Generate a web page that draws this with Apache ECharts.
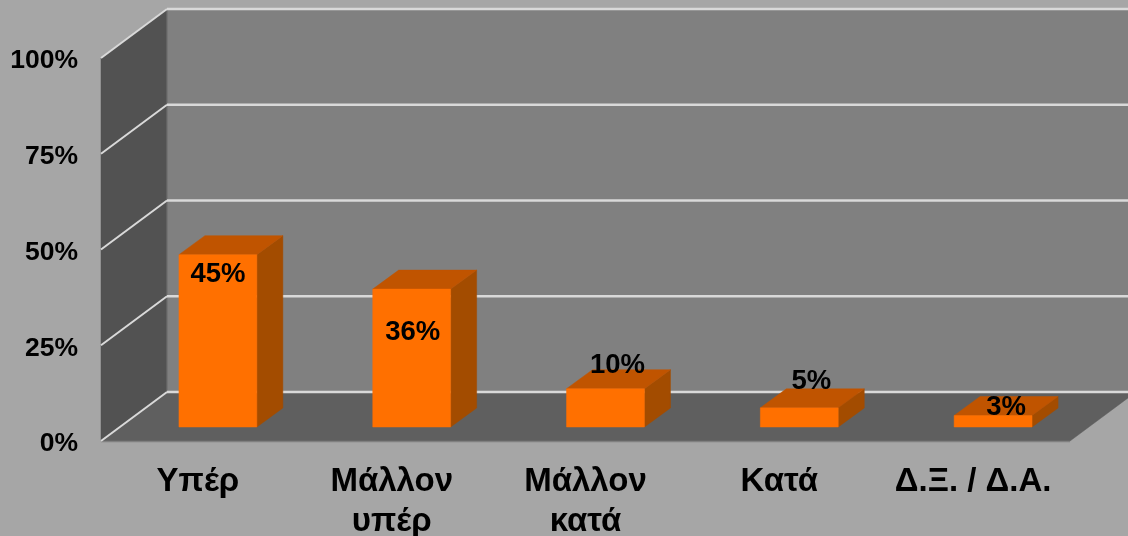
<!DOCTYPE html>
<html>
<head>
<meta charset="utf-8">
<style>html,body{margin:0;padding:0;background:#a6a6a6}#c{width:1128px;height:536px}</style>
<script src="https://cdn.jsdelivr.net/npm/echarts@6/dist/echarts.min.js"></script>
</head>
<body>
<div id="c"></div>
<script>
const categories = ['Υπέρ', 'Μάλλον\nυπέρ', 'Μάλλον\nκατά', 'Κατά', 'Δ.Ξ. / Δ.Α.'];
const values = [45, 36, 10, 5, 3];
const yTicks = [0, 25, 50, 75, 100];

// Presentation constants for the oblique 3D look
const DEPTH_X = 66, DEPTH_Y = -49;
const BAR_SHIFT_X = 20, BAR_SHIFT_Y = -14, BAR_DX = 26, BAR_DY = -19, BAR_RATIO = 0.402;
const labelShift = [[0, 20], [1, 43], [12, -23], [12, -26], [13, -8]];
const FONT = '"Liberation Sans", Arial, sans-serif';

const poly = (points, fill, z2) => ({
  type: 'polygon', z2: z2 || 0, silent: true,
  shape: { points }, style: { fill, stroke: fill, lineWidth: 0.5 }
});
const seg = (x1, y1, x2, y2, stroke, w, z2) => ({
  type: 'line', z2: z2 || 1, silent: true,
  shape: { x1, y1, x2, y2 }, style: { stroke, lineWidth: w }
});

function renderWalls(params, api) {
  const cs = params.coordSys;
  const L = cs.x, R = cs.x + cs.width;
  const y0 = api.coord([0, 0])[1], yTop = api.coord([0, 100])[1];
  const dx = DEPTH_X, dy = DEPTH_Y;
  const children = [
    poly([[L + dx, yTop + dy], [R + dx, yTop + dy], [R + dx, y0 + dy], [L + dx, y0 + dy]], '#808080'),
    poly([[L, yTop], [L + dx, yTop + dy], [L + dx, y0 + dy], [L, y0]], '#525252'),
    poly([[L, y0], [L + dx, y0 + dy], [R + dx, y0 + dy], [R, y0]], '#5f5f5f'),
    seg(L + dx, yTop + dy, L + dx, y0 + dy, '#747474', 1),
    seg(L, y0 + 0.5, R, y0 + 0.5, '#808080', 1.5)
  ];
  yTicks.forEach(t => {
    const y = api.coord([0, t])[1];
    children.push(seg(L + dx, y + dy, R + dx, y + dy, '#d9d9d9', 2.6, 2));
    children.push(seg(L, y, L + dx, y + dy, '#d9d9d9', 2, 2));
  });
  return { type: 'group', children };
}

function renderBars(params, api) {
  const i = api.value(0), v = api.value(1);
  const base = api.coord([i, 0]), top = api.coord([i, v]);
  const w = api.size([1, 0])[0] * BAR_RATIO;
  const x1 = base[0] + BAR_SHIFT_X - w / 2, x2 = x1 + w;
  const yb = base[1] + BAR_SHIFT_Y, yt = top[1] + BAR_SHIFT_Y;
  const s = labelShift[i];
  return {
    type: 'group',
    children: [
      poly([[x2, yt], [x2 + BAR_DX, yt + BAR_DY], [x2 + BAR_DX, yb + BAR_DY], [x2, yb]], '#a34c00'),
      poly([[x1, yt], [x1 + BAR_DX, yt + BAR_DY], [x2 + BAR_DX, yt + BAR_DY], [x2, yt]], '#c05400'),
      poly([[x1, yt], [x2, yt], [x2, yb], [x1, yb]], '#ff7000'),
      {
        type: 'text', z2: 5, silent: true,
        style: {
          text: v + '%', x: (x1 + x2) / 2 + s[0], y: yt + s[1],
          align: 'center', verticalAlign: 'middle',
          fill: '#000', font: 'bold 27.5px ' + FONT
        }
      }
    ]
  };
}

const chart = echarts.init(document.getElementById('c'));
chart.setOption({
  animation: false,
  backgroundColor: '#a6a6a6',
  grid: { left: 101, right: 58, top: 58, bottom: 95, outerBoundsMode: 'none' },
  xAxis: {
    type: 'category', data: categories,
    axisLine: { show: false }, axisTick: { show: false }, splitLine: { show: false },
    axisLabel: {
      interval: 0, margin: 21, color: '#000', fontFamily: FONT,
      fontWeight: 'bold', fontSize: 33, lineHeight: 40
    }
  },
  yAxis: {
    type: 'value', min: 0, max: 100, interval: 25,
    axisLine: { show: false }, axisTick: { show: false }, splitLine: { show: false },
    axisLabel: {
      formatter: '{value}%', margin: 23, color: '#000',
      fontFamily: FONT, fontWeight: 'bold', fontSize: 26.5,
      verticalAlign: 'top', lineHeight: 6
    }
  },
  series: [
    { type: 'custom', name: 'walls', z: 1, silent: true, renderItem: renderWalls, data: [[0, 0]] },
    {
      type: 'custom', name: 'bars', z: 2, silent: true, renderItem: renderBars,
      encode: { x: 0, y: 1 },
      data: values.map((v, i) => [i, v])
    }
  ]
});
</script>
</body>
</html>
